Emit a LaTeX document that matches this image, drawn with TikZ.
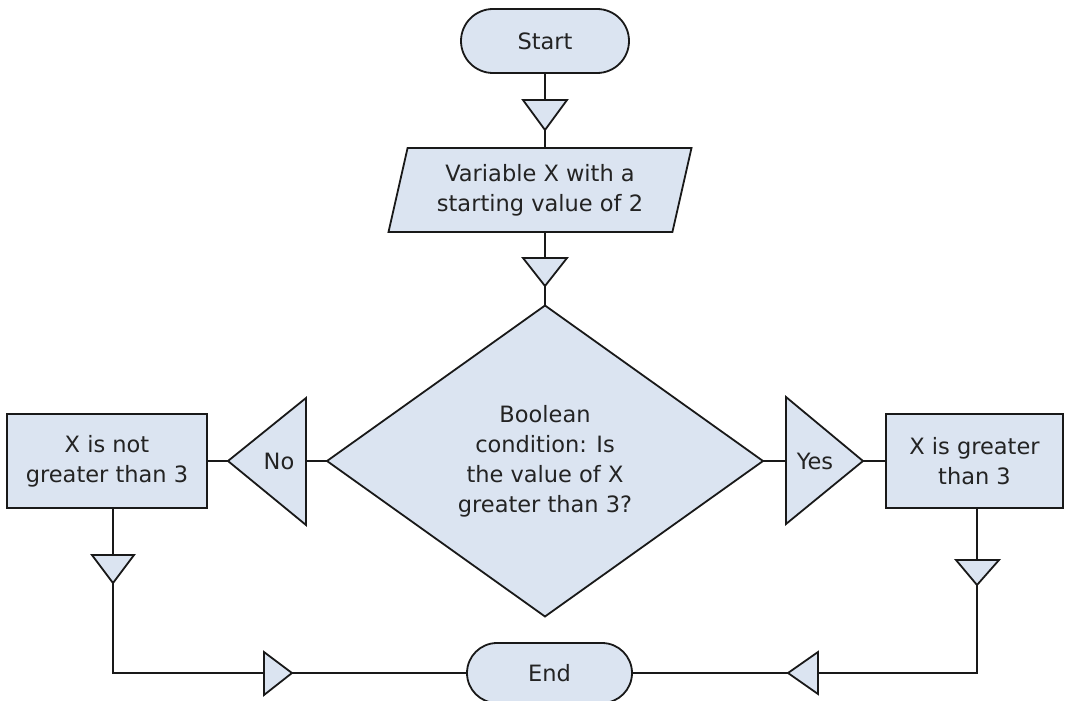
\documentclass[tikz,border=0pt]{standalone}
\usepackage{fontspec}
\setmainfont{DejaVu Sans}
\usetikzlibrary{shapes.geometric,shapes.misc}
\definecolor{fillc}{RGB}{219,228,241}
\definecolor{linec}{RGB}{25,25,25}
\definecolor{textc}{RGB}{35,35,35}
\begin{document}
\begin{tikzpicture}[x=1pt,y=-1pt,
  base/.style={draw=linec,line width=1.8pt,fill=fillc,text=textc,font=\fontsize{22.5}{30}\selectfont,align=center,inner sep=0pt,outer sep=0pt},
  term/.style={base,rounded rectangle,minimum width=168pt,minimum height=64pt},
  procbox/.style={base,rectangle,minimum height=94pt},
  tri/.style={draw=linec,line width=1.8pt,fill=fillc,line join=miter},
  conn/.style={draw=linec,line width=1.8pt},
  lbl/.style={text=textc,font=\fontsize{22.5}{30}\selectfont,inner sep=0pt}]
\useasboundingbox (0,0) rectangle (1065,701);

% main nodes
\node[term] (start) at (545,41) {Start};
\node[base,trapezium,trapezium left angle=74,trapezium right angle=106,trapezium stretches=true,minimum width=304pt,minimum height=84pt] (input) at (540,190) {Variable X with a\\starting value of 2};
\node[base,diamond,aspect=1.4,minimum width=436pt,minimum height=311pt] (dec) at (545,461) {Boolean\\condition: Is\\the value of X\\greater than 3?};
\node[procbox,minimum width=200pt] (lbox) at (107,461) {X is not\\greater than 3};
\node[procbox,minimum width=177pt] (rbox) at (974.5,461) {X is greater\\than 3};
\node[term,minimum width=165pt,minimum height=60pt] (end) at (549.5,673) {End};

% triangle coordinates
\coordinate (t1in) at (545,100); \coordinate (t1out) at (545,130);
\coordinate (t2in) at (545,258); \coordinate (t2out) at (545,286);
\coordinate (noin) at (306,461); \coordinate (noout) at (228,461);
\coordinate (yesin) at (786,461); \coordinate (yesout) at (863,461);
\coordinate (ltin) at (113,555); \coordinate (ltout) at (113,583);
\coordinate (rtin) at (977,560); \coordinate (rtout) at (977,585);
\coordinate (lc) at (113,673); \coordinate (rc) at (977,673);
\coordinate (bltin) at (264,673); \coordinate (bltout) at (292,673);
\coordinate (brtin) at (818,673); \coordinate (brtout) at (788,673);

% connectors
\draw[conn] (start.south -| t1in) -- (t1in);
\draw[conn] (t1out) -- (t1out |- input.north);
\draw[conn] (t2in |- input.south) -- (t2in);
\draw[conn] (t2out) -- (dec.north);
\draw[conn] (dec.west) -- (noin);
\draw[conn] (noout) -- (lbox.east);
\draw[conn] (dec.east) -- (yesin);
\draw[conn] (yesout) -- (rbox.west);
\draw[conn] (lbox.south -| ltin) -- (ltin);
\draw[conn] (rbox.south -| rtin) -- (rtin);
\draw[conn] (ltout) -- (lc) -- (bltin);
\draw[conn] (bltout) -- (end.west);
\draw[conn] (rtout) -- (rc) -- (brtin);
\draw[conn] (brtout) -- (end.east);

% triangles
\path[tri] (523,100) -- (567,100) -- (t1out) -- cycle;
\path[tri] (523,258) -- (567,258) -- (t2out) -- cycle;
\path[tri] (306,398) -- (306,525) -- (noout) -- cycle;
\path[tri] (786,397) -- (786,524) -- (yesout) -- cycle;
\path[tri] (92,555) -- (134,555) -- (ltout) -- cycle;
\path[tri] (956,560) -- (999,560) -- (rtout) -- cycle;
\path[tri] (264,652) -- (264,695) -- (bltout) -- cycle;
\path[tri] (818,652) -- (818,694) -- (brtout) -- cycle;

% triangle labels
\node[lbl] (nolbl) at (279,461) {No};
\node[lbl] (yeslbl) at (815,461) {Yes};
\end{tikzpicture}
\end{document}
